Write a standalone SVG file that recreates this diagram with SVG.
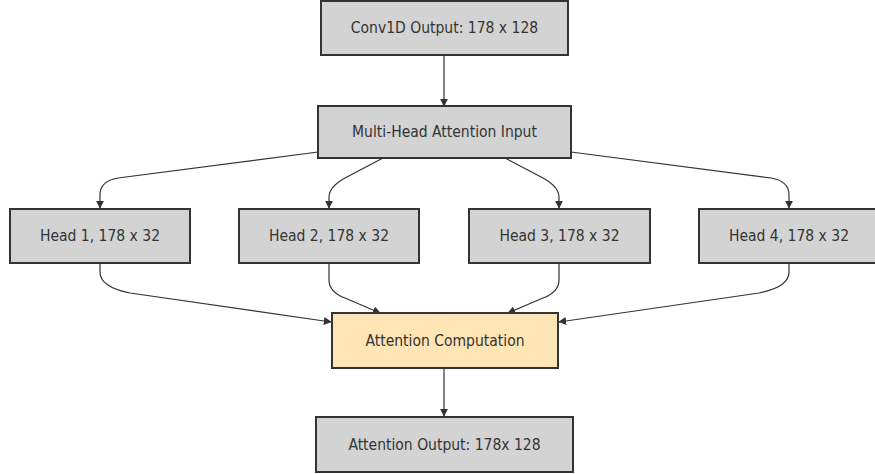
<svg xmlns="http://www.w3.org/2000/svg" width="875" height="474" viewBox="0 0 875 474">
<defs>
<style>
.node rect{fill:#d3d3d3;stroke:#333;stroke-width:2}
.node.hl rect{fill:#ffe4b5}
.node text{font-family:"DejaVu Sans Condensed","Liberation Sans",sans-serif;font-size:15.5px;fill:#333;text-anchor:middle;dominant-baseline:central}
.edge{fill:none;stroke:#333;stroke-width:1.2;marker-end:url(#arr)}
</style>
<marker id="arr" viewBox="0 0 10 10" refX="9" refY="5" markerWidth="8" markerHeight="8" markerUnits="userSpaceOnUse" orient="auto">
<path d="M0,0 L10,5 L0,10 z" fill="#333"/>
</marker>
</defs>
<rect width="875" height="474" fill="#fff"/>
<g id="edges">
<path class="edge" d="M444,55 L444,106"/>
<path class="edge" d="M318,152 L118,178 Q100,181 100,195 L100,208"/>
<path class="edge" d="M383,158 L345,178 Q329,187 329,197 L329,208"/>
<path class="edge" d="M505,158 L543,178 Q559,187 559,197 L559,208"/>
<path class="edge" d="M571,152 L771,178 Q789,181 789,195 L789,208"/>
<path class="edge" d="M100,263 L100,272 Q100,287 130,293 L331,322"/>
<path class="edge" d="M329,263 L329,280 Q329,292 345,298 L380,313"/>
<path class="edge" d="M559,263 L559,280 Q559,292 543,298 L508,313"/>
<path class="edge" d="M789,263 L789,272 Q789,287 759,293 L559,322"/>
<path class="edge" d="M444,368 L444,416"/>
</g>
<g id="conv" class="node"><rect x="321" y="1" width="247" height="54"/><text x="444.5" y="28">Conv1D Output: 178 x 128</text></g>
<g id="mha" class="node"><rect x="318" y="106" width="253" height="52"/><text x="444.5" y="132">Multi-Head Attention Input</text></g>
<g id="head1" class="node"><rect x="10" y="209" width="180" height="54"/><text x="100" y="236">Head 1, 178 x 32</text></g>
<g id="head2" class="node"><rect x="239" y="209" width="180" height="54"/><text x="329" y="236">Head 2, 178 x 32</text></g>
<g id="head3" class="node"><rect x="469" y="209" width="181" height="54"/><text x="559.5" y="236">Head 3, 178 x 32</text></g>
<g id="head4" class="node"><rect x="699" y="209" width="180" height="54"/><text x="789" y="236">Head 4, 178 x 32</text></g>
<g id="attn" class="node hl"><rect x="332" y="313" width="226" height="55"/><text x="445" y="340.5">Attention Computation</text></g>
<g id="out" class="node"><rect x="316" y="417" width="257" height="55"/><text x="444.5" y="444.5">Attention Output: 178x 128</text></g>
</svg>
